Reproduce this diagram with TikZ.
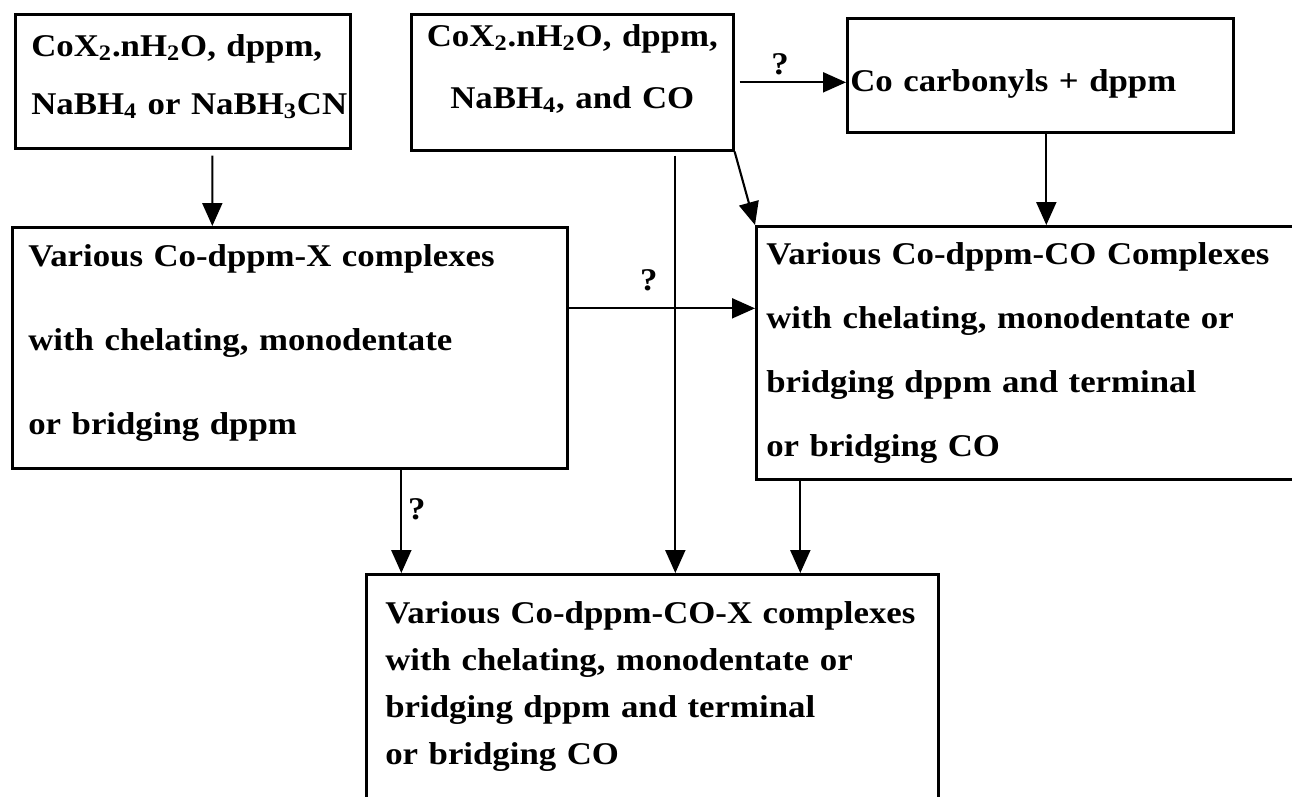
\documentclass[tikz,border=0pt]{standalone}
\usepackage{fontspec}
\setmainfont{Liberation Serif}[FakeStretch=1.1]
\usetikzlibrary{arrows.meta}

% bold box text, #1 = line spacing
\newcommand{\boxfont}[1]{\fontsize{18pt}{#1}\selectfont\bfseries}

\begin{document}
\begin{tikzpicture}[
    box/.style={draw, line width=1.5pt, anchor=north west, inner ysep=0pt, align=left},
    arr/.style={line width=1.2pt, -{Triangle[length=4.6mm,width=4mm]}},
    qmark/.style={font=\boxfont{20pt}}]
    \useasboundingbox (0,0) rectangle (25.84,-15.92);
    \clip (0,0) rectangle (25.84,-15.92);

    % starting materials
    \node[box, font=\boxfont{1.16cm}, inner xsep=.32cm, text width=6.06cm,
          text height=.84cm, text depth=1.84cm] (A) at (0.28,-0.26)
        {CoX\textsubscript{2}.nH\textsubscript{2}O, dppm,\\
         \mbox{NaBH\textsubscript{4} or NaBH\textsubscript{3}CN}};
    \node[box, align=center, font=\boxfont{1.24cm}, inner xsep=.1cm, text width=6.24cm,
          text height=.64cm, text depth=2.08cm] (B) at (8.20,-0.26)
        {CoX\textsubscript{2}.nH\textsubscript{2}O, dppm,\\
         NaBH\textsubscript{4}, and CO};
    \node[box, font=\boxfont{1cm}, inner xsep=.06cm, text width=7.60cm,
          text height=1.46cm, text depth=.82cm] (C) at (16.92,-0.34)
        {Co carbonyls + dppm};

    % complexes
    \node[box, font=\boxfont{1.68cm}, inner xsep=.32cm, text width=10.46cm,
          text height=.78cm, text depth=4.04cm] (D) at (0.22,-4.52)
        {Various Co-dppm-X complexes\\
         with chelating, monodentate\\
         or bridging dppm};
    \node[box, font=\boxfont{1.28cm}, inner xsep=.2cm, text width=11.0cm,
          text height=.76cm, text depth=4.30cm] (E) at (15.10,-4.50)
        {Various Co-dppm-CO Complexes\\
         with chelating, monodentate or\\
         bridging dppm and terminal\\
         or bridging CO};
    \node[box, font=\boxfont{.94cm}, inner xsep=.38cm, text width=10.68cm,
          text height=.98cm, text depth=3.76cm] (F) at (7.30,-11.46)
        {Various Co-dppm-CO-X complexes\\
         with chelating, monodentate or\\
         bridging dppm and terminal\\
         or bridging CO};

    % arrows
    \draw[arr] ([xshift=.59cm,yshift=-.12cm]A.south) -- ([xshift=-1.55cm]D.north);
    \draw[arr] ([xshift=.1cm]B.east) -- (B.east -| C.west)
        node[qmark, pos=.38, above] (q1) {?};
    \coordinate (bf) at ([xshift=2.06cm,yshift=-.08cm]B.south);
    \draw[arr] (bf) -- (bf |- F.north);
    \draw[arr] (B.south east) -- (E.north west);
    \coordinate (ce) at ([xshift=.12cm]C.south);
    \draw[arr] (ce) -- (ce |- E.north);
    \coordinate (de) at ([yshift=.79cm]D.east);
    \draw[arr] (de) -- (de -| E.west)
        node[qmark, pos=.43, above, yshift=.2cm] (q2) {?};
    \coordinate (df) at ([xshift=2.23cm]D.south);
    \draw[arr] (df) -- (df |- F.north)
        node[qmark, pos=.38, right] (q3) {?};
    \coordinate (ef) at ([xshift=2.96cm]F.north);
    \draw[arr] (ef |- E.south) -- (ef);
\end{tikzpicture}
\end{document}
